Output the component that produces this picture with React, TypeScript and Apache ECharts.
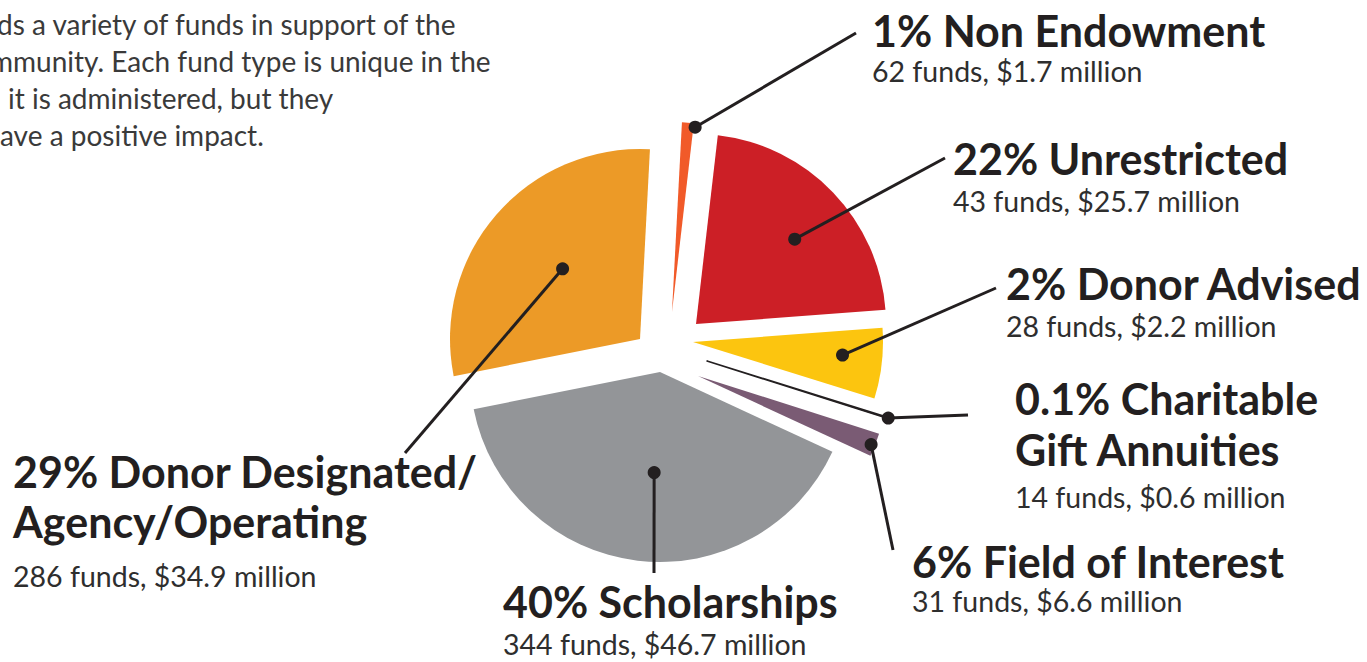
import React, { useEffect, useRef } from "react";
import * as echarts from "echarts";

// ---- data (pie order, clockwise from the top) ----
const categories = [
  "Non Endowment",
  "Unrestricted",
  "Field of Interest",
  "Charitable Gift Annuities",
  "Donor Advised",
  "Scholarships",
  "Donor Designated/Agency/Operating",
];
const shares = [1, 22, 6, 0.1, 2, 40, 29];
const colors = ["#f15a29", "#cc1f26", "#fcc50f", "#231f20", "#7a5b74", "#939598", "#ec9a27"];

// ---- label texts (in the order of the slices their leader lines touch) ----
const labelTitles = [
  ["1% Non Endowment"],
  ["22% Unrestricted"],
  ["2% Donor Advised"],
  ["0.1% Charitable", "Gift Annuities"],
  ["6% Field of Interest"],
  ["40% Scholarships"],
  ["29% Donor Designated/", "Agency/Operating"],
];
const labelDetails = [
  "62 funds, $1.7 million",
  "43 funds, $25.7 million",
  "28 funds, $2.2 million",
  "14 funds, $0.6 million",
  "31 funds, $6.6 million",
  "344 funds, $46.7 million",
  "286 funds, $34.9 million",
];
const introLines = [
  "ds a variety of funds in support of the",
  "mmunity. Each fund type is unique in the",
  "it is administered, but they",
  "ave a positive impact.",
];

// ---- layout ----
const W = 1367;
const H = 662;
const RADIUS = 190;
const START_ANGLE = 87;
const SLICE_CENTERS: number[][] = [
  [672, 312], [696, 324], [693, 342], [707, 361], [698, 376], [660, 372], [640, 339],
];
// [position across the slice 0..1, fraction of radius]
const DOT_SPOTS: number[][] = [
  [1.15, 0.98], [0.54, 0.685], [0.43, 0.79], [0.5, 1.0], [0.55, 0.98], [0.476, 0.53], [0.513, 0.55],
];
const LEADER_ENDS: number[][] = [
  [856, 33], [945, 158], [996, 288], [968, 415], [893, 550], [654, 573], [405, 453],
];
// x, mid y of each title line, mid y of detail line
const LABEL_POS: { x: number; titleY: number[]; detailY: number }[] = [
  { x: 872, titleY: [30.5], detailY: 71 },
  { x: 953, titleY: [158.5], detailY: 201 },
  { x: 1006, titleY: [283.5], detailY: 326 },
  { x: 1015, titleY: [398.5, 449], detailY: 497 },
  { x: 912, titleY: [561.5], detailY: 601 },
  { x: 503, titleY: [601.5], detailY: 644 },
  { x: 13, titleY: [471.5, 521], detailY: 576 },
];
const INTRO_X = [-3, -10, 8, 0];
const INTRO_Y = [24, 61, 98, 135];

const FONT = "Lato, 'Open Sans', sans-serif";
const INK = "#231f20";
const TITLE_SIZE = 43;
const DETAIL_SIZE = 28.5;
const INTRO_SIZE = 28;

export default function App() {
  const ref = useRef<HTMLDivElement>(null);

  useEffect(() => {
    const el = ref.current;
    if (!el) return;
    const chart = echarts.init(el, null, { renderer: "svg", width: W, height: H });

    const series = categories.map((_, k) => ({
      type: "pie",
      name: categories[k],
      center: SLICE_CENTERS[k],
      radius: [0, RADIUS],
      startAngle: START_ANGLE,
      clockwise: true,
      silent: true,
      avoidLabelOverlap: false,
      label: { show: false },
      labelLine: { show: false },
      emphasis: { disabled: true },
      data: categories.map((name, j) => ({
        name,
        value: shares[j],
        itemStyle:
          j === k
            ? { color: colors[j], borderColor: colors[j], borderWidth: k === 3 ? 1.5 : 0 }
            : { color: "rgba(0,0,0,0)", borderWidth: 0 },
      })),
    }));

    chart.setOption({ animation: false, series });

    // fallback layout (same convention as the ECharts pie layout)
    const total = shares.reduce((a, b) => a + b, 0);
    const fallback = (k: number) => {
      let cum = 0;
      for (let j = 0; j < k; j++) cum += shares[j];
      const s = (-START_ANGLE * Math.PI) / 180 + (cum / total) * Math.PI * 2;
      const e = s + (shares[k] / total) * Math.PI * 2;
      return { cx: SLICE_CENTERS[k][0], cy: SLICE_CENTERS[k][1], r: RADIUS, startAngle: s, endAngle: e };
    };

    const dots: number[][] = categories.map((_, k) => {
      let lay: any = null;
      try {
        lay = (chart as any).getModel().getSeriesByIndex(k).getData().getItemLayout(k);
      } catch (e) {
        lay = null;
      }
      if (!lay || typeof lay.startAngle !== "number") lay = fallback(k);
      const [t, rf] = DOT_SPOTS[k];
      const a = lay.startAngle + t * (lay.endAngle - lay.startAngle);
      return [lay.cx + rf * lay.r * Math.cos(a), lay.cy + rf * lay.r * Math.sin(a)];
    });

    const graphic: any[] = [];
    introLines.forEach((line, i) => {
      graphic.push({
        type: "text",
        x: INTRO_X[i],
        y: INTRO_Y[i],
        silent: true,
        style: { text: line, font: `${INTRO_SIZE}px ${FONT}`, fill: "#3a3a3a", align: "left", verticalAlign: "middle" },
      });
    });
    dots.forEach((d, k) => {
      graphic.push({
        type: "line",
        silent: true,
        shape: { x1: d[0], y1: d[1], x2: LEADER_ENDS[k][0], y2: LEADER_ENDS[k][1] },
        style: { stroke: INK, lineWidth: 3 },
        z: 10,
      });
    });
    dots.forEach((d) => {
      graphic.push({
        type: "circle",
        silent: true,
        shape: { cx: d[0], cy: d[1], r: 6.5 },
        style: { fill: INK },
        z: 11,
      });
    });
    labelTitles.forEach((lines, k) => {
      const p = LABEL_POS[k];
      lines.forEach((line, i) => {
        graphic.push({
          type: "text",
          x: p.x,
          y: p.titleY[i],
          silent: true,
          style: { text: line, font: `bold ${TITLE_SIZE}px ${FONT}`, fill: INK, align: "left", verticalAlign: "middle" },
        });
      });
      graphic.push({
        type: "text",
        x: p.x,
        y: p.detailY,
        silent: true,
        style: { text: labelDetails[k], font: `${DETAIL_SIZE}px ${FONT}`, fill: "#2e2e2e", align: "left", verticalAlign: "middle" },
      });
    });

    chart.setOption({ graphic });

    return () => {
      chart.dispose();
    };
  }, []);

  return (
    <div
      ref={ref}
      style={{ position: "absolute", left: 0, top: 0, width: W, height: H, background: "#ffffff" }}
    />
  );
}
